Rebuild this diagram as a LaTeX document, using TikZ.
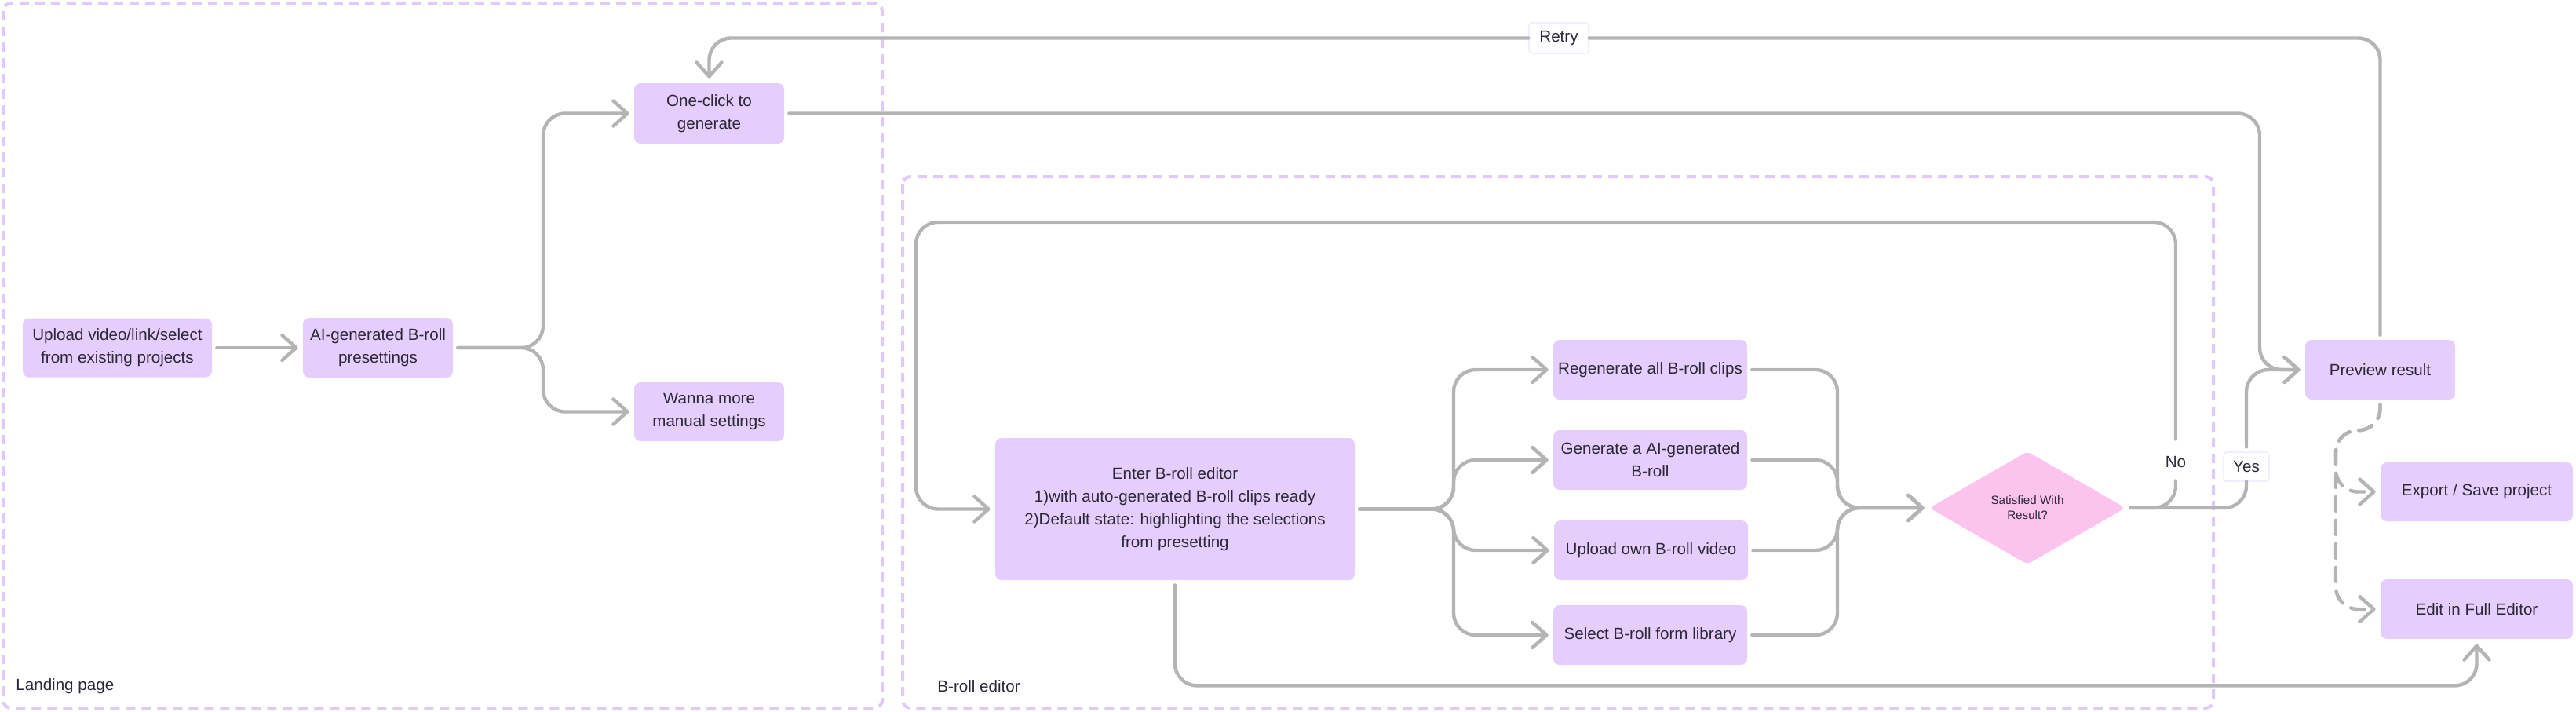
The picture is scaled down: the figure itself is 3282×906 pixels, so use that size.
\documentclass[tikz,border=0pt]{standalone}
\usepackage{fontspec}
\setmainfont{Liberation Sans}
\usetikzlibrary{arrows.meta,shapes.geometric}

\definecolor{boxfill}{HTML}{E5CEFD}
\definecolor{decfill}{HTML}{FCC3EF}
\definecolor{linegray}{HTML}{B4B4B4}
\definecolor{framelilac}{HTML}{E0C9FF}
\definecolor{tagline}{HTML}{EEE4FF}
\definecolor{ink}{HTML}{2D2838}

\newcommand{\boxfont}{\fontsize{10.3}{14.5}\selectfont}
\newcommand{\smallboxfont}{\fontsize{7.6}{9.5}\selectfont}

\tikzset{
  stepbox/.style={fill=boxfill, rounded corners=4pt, text=ink, font=\boxfont, align=center, inner sep=0pt},
  decision/.style={diamond, fill=decfill, rounded corners=3pt, text=ink, font=\smallboxfont, align=center,
    inner sep=0pt, minimum width=125pt, minimum height=72pt, aspect=1.74},
  tag/.style={fill=white, draw=tagline, line width=0.6pt, rounded corners=2pt, text=ink, font=\boxfont, inner sep=0pt},
  link/.style={draw=linegray, line width=2.2pt, line cap=round, rounded corners=14pt,
    -{Straight Barb[length=9pt, width=16pt, round]}, shorten >=3pt, shorten <=3pt},
  plain/.style={draw=linegray, line width=2.2pt, line cap=round, rounded corners=14pt, shorten <=3pt},
  frame/.style={draw=framelilac, line width=2pt, dash pattern=on 6pt off 4pt, rounded corners=5pt},
  caption/.style={anchor=west, text=ink, font=\boxfont, inner sep=0pt},
}

\begin{document}
\begin{tikzpicture}[x=0.5pt, y=-0.5pt]
      \useasboundingbox (0,0) rectangle (3282,906);

      % Dashed frames
      \draw[frame] (4,4) rectangle (1124,902);
      \draw[frame] (1150,225) rectangle (2820,902);
      \node[caption] (landing) at (20,874) {Landing page};
      \node[caption] (brolled) at (1194,874) {B-roll editor};

      % Landing page steps
      \node[stepbox, minimum width=120.5pt, minimum height=37.5pt] (upload) at (149.5,443) {Upload video/link/select\\from existing projects};
      \node[stepbox, minimum width=95.5pt, minimum height=38pt] (ai) at (481.5,443) {AI-generated B-roll\\presettings};
      \node[stepbox, minimum width=95.5pt, minimum height=38.5pt] (oneclick) at (903.5,144.5) {One-click to\\generate};
      \node[stepbox, minimum width=95.5pt, minimum height=37.5pt] (wanna) at (903.5,524.5) {Wanna more\\manual settings};

      % B-roll editor steps
      \node[stepbox, minimum width=229pt, minimum height=90.5pt] (enter) at (1497,648.5) {Enter B-roll editor\\1)with auto-generated B-roll clips ready\\2)Default state: highlighting the selections\\from presetting};
      \node[stepbox, minimum width=123.5pt, minimum height=38pt] (regen) at (2102.5,471) {Regenerate all B-roll clips};
      \node[stepbox, minimum width=123.5pt, minimum height=38pt] (genai) at (2102.5,586) {Generate a AI-generated\\B-roll};
      \node[stepbox, minimum width=123.5pt, minimum height=38pt] (ownclip) at (2103.5,701) {Upload own B-roll video};
      \node[stepbox, minimum width=123.5pt, minimum height=38pt] (library) at (2102.5,809) {Select B-roll form library};
      \node[decision] (check) at (2583,647) {Satisfied With\\Result?};

      % Outcome steps
      \node[stepbox, minimum width=95.5pt, minimum height=38pt] (preview) at (3032.5,471) {Preview result};
      \node[stepbox, minimum width=122.5pt, minimum height=37.5pt] (export) at (3155.5,626.5) {Export / Save project};
      \node[stepbox, minimum width=122.5pt, minimum height=38pt] (edit) at (3155.5,776) {Edit in Full Editor};

      % Line labels
      \node[tag, minimum width=38pt, minimum height=19.5pt] (retry) at (1986,48.5) {Retry};
      \node[fill=white, text=ink, font=\boxfont, inner sep=0pt, minimum width=20pt, minimum height=23pt] (no) at (2772,589) {No};
      \node[tag, minimum width=29pt, minimum height=18.5pt] (yes) at (2862,594.5) {Yes};

      % Connectors, landing page
      \draw[link] (upload.east) -- (ai.west);
      \foreach \n in {oneclick,wanna}
        \draw[link] (ai.east) -- (692,443) |- (\n.west);
      \draw[plain] (preview.north) |- (retry.east);
      \draw[link, shorten <=0pt] (retry.west) -| (oneclick.north);
      \draw[link] (oneclick.east) -- (2879,144.5) |- (preview.west);

      % Connectors, B-roll editor
      \foreach \n in {regen,genai,ownclip,library}
        \draw[link] (enter.east) -- (1852,648.5) |- (\n.west);
      \foreach \n in {regen,genai,ownclip,library}
        \draw[link] (\n.east) -| (2341,647) -- (check.west);
      \draw[plain] (check.east) -| (no.south);
      \draw[link] (no.north) |- (1167,283) |- (enter.west);
      \draw[plain] (check.east) -| (yes.south);
      \draw[link] (yes.north) |- (preview.west);
      \draw[link] (enter.south) -- ++(0,134) -| (edit.south);

      % Dashed follow-ups
      \draw[link, dash pattern=on 9pt off 6pt] (preview.south) -- ++(0,39) -- (2976,548) |- (export.west);
      \draw[link, dash pattern=on 9pt off 6pt] (preview.south) -- ++(0,39) -- (2976,548) |- (edit.west);
\end{tikzpicture}
\end{document}
